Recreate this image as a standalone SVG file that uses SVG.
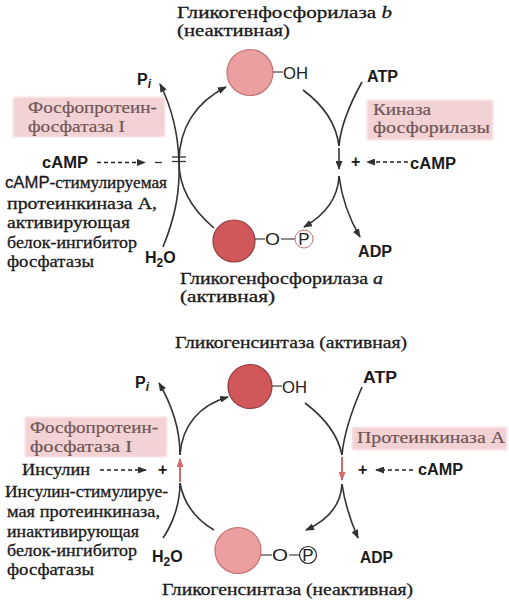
<svg xmlns="http://www.w3.org/2000/svg" width="509" height="602" viewBox="0 0 509 602">
<defs>
<style>
.t{font-family:"Liberation Serif","Times New Roman",serif;font-size:16.5px;fill:#1a1a1a;stroke:#1a1a1a;stroke-width:0.3}
.bx{font-family:"Liberation Serif","Times New Roman",serif;font-size:16.5px;fill:#705656;stroke:#705656;stroke-width:0.2}
.s{font-family:"Liberation Sans",Arial,sans-serif;font-size:16px;font-weight:bold;fill:#1a1a1a}
.o{font-family:"Liberation Sans",Arial,sans-serif;font-size:17px;fill:#222}
.ln{fill:none;stroke:#333;stroke-width:1.6}
.dash{fill:none;stroke:#222;stroke-width:1.3;stroke-dasharray:4 3}
.red{fill:none;stroke:#d46a6a;stroke-width:2}
.box{fill:#f3d2d5}
.lp{fill:#eb9fa1;stroke:#c47277;stroke-width:1.2}
.dr{fill:#d0585a;stroke:#8e3a3a;stroke-width:1.2}
</style>
<marker id="ah" markerWidth="9" markerHeight="7" refX="8" refY="3.5" orient="auto" markerUnits="userSpaceOnUse"><path d="M0,0 L9,3.5 L0,7 Z" fill="#333"/></marker>
<marker id="ahr" markerWidth="9" markerHeight="7" refX="8" refY="3.5" orient="auto" markerUnits="userSpaceOnUse"><path d="M0,0 L9,3.5 L0,7 Z" fill="#d46a6a"/></marker>
<filter id="soft" x="-5%" y="-10%" width="110%" height="120%"><feGaussianBlur stdDeviation="1.2"/></filter>
</defs>
<rect width="509" height="602" fill="#fff"/>

<!-- ===== TOP DIAGRAM ===== -->
<g id="title-b">
<text class="t" x="177" y="17.5" textLength="215" lengthAdjust="spacingAndGlyphs">Гликогенфосфорилаза <tspan font-style="italic">b</tspan></text>
<text class="t" x="177" y="35.5" textLength="113" lengthAdjust="spacingAndGlyphs">(неактивная)</text>
</g>
<g id="phos-b">
<circle class="lp" cx="250" cy="72.5" r="23"/>
<line x1="273" y1="72" x2="283" y2="72" stroke="#444" stroke-width="1.2"/>
<text class="o" x="283" y="79" textLength="25" lengthAdjust="spacingAndGlyphs">OH</text>
</g>
<g id="phos-a">
<circle class="dr" cx="234" cy="241" r="21"/>
<line x1="255" y1="239" x2="265" y2="239" stroke="#444" stroke-width="1.2"/>
<text class="o" x="265" y="245" textLength="15" lengthAdjust="spacingAndGlyphs">O</text>
<line x1="281" y1="239" x2="295" y2="239" stroke="#444" stroke-width="1.2"/>
<circle cx="304" cy="239" r="9" fill="#fff" stroke="#c47277" stroke-width="1"/>
<text class="o" x="304" y="244.5" font-size="14" text-anchor="middle">P</text>
</g>
<g id="title-a">
<text class="t" x="180" y="283.5" textLength="203" lengthAdjust="spacingAndGlyphs">Гликогенфосфорилаза <tspan font-style="italic">a</tspan></text>
<text class="t" x="180" y="301.5" textLength="95" lengthAdjust="spacingAndGlyphs">(активная)</text>
</g>
<g id="ppase1-top">
<rect class="box" x="13" y="97" width="152" height="40" filter="url(#soft)"/>
<text class="bx" x="28" y="113" textLength="129" lengthAdjust="spacingAndGlyphs">Фосфопротеин-</text>
<text class="bx" x="28" y="132" textLength="97" lengthAdjust="spacingAndGlyphs">фосфатаза I</text>
</g>
<g id="kinase-top">
<rect class="box" x="367" y="100" width="126" height="40" filter="url(#soft)"/>
<text class="bx" x="373" y="115" textLength="58" lengthAdjust="spacingAndGlyphs">Киназа</text>
<text class="bx" x="373" y="133" textLength="117" lengthAdjust="spacingAndGlyphs">фосфорилазы</text>
</g>
<g id="labels-top">
<text class="s" x="137" y="85">P<tspan font-size="12" font-style="italic" dy="3">i</tspan></text>
<text class="s" x="145" y="263">H<tspan font-size="12" dy="4">2</tspan><tspan dy="-4">O</tspan></text>
<text class="s" x="367" y="82" textLength="31" lengthAdjust="spacingAndGlyphs">ATP</text>
<text class="s" x="358" y="257" textLength="34" lengthAdjust="spacingAndGlyphs">ADP</text>
<text class="s" x="42" y="168" textLength="46" lengthAdjust="spacingAndGlyphs" font-weight="normal">cAMP</text>
<text class="s" x="410" y="169" textLength="46" lengthAdjust="spacingAndGlyphs">cAMP</text>
<text class="s" x="351" y="167" font-size="15">+</text>
<text class="t" x="5" y="188" textLength="162" lengthAdjust="spacingAndGlyphs"><tspan font-family="Liberation Sans,Arial,sans-serif" font-size="16">cAMP</tspan>-стимулируемая</text>
<text class="t" x="7" y="208.5" textLength="150" lengthAdjust="spacingAndGlyphs">протеинкиназа А,</text>
<text class="t" x="7" y="228" textLength="123" lengthAdjust="spacingAndGlyphs">активирующая</text>
<text class="t" x="7" y="247.5" textLength="130" lengthAdjust="spacingAndGlyphs">белок-ингибитор</text>
<text class="t" x="7" y="267" textLength="87" lengthAdjust="spacingAndGlyphs">фосфатазы</text>
</g>

<!-- ===== BOTTOM DIAGRAM ===== -->
<g id="title-gs-active">
<text class="t" x="175" y="348" textLength="232" lengthAdjust="spacingAndGlyphs">Гликогенсинтаза (активная)</text>
</g>
<g id="gs-active">
<circle class="dr" cx="250" cy="386.5" r="22"/>
<line x1="272" y1="386" x2="282" y2="386" stroke="#444" stroke-width="1.2"/>
<text class="o" x="282" y="393" textLength="25" lengthAdjust="spacingAndGlyphs">OH</text>
</g>
<g id="gs-inactive">
<circle class="lp" cx="238" cy="550.5" r="23"/>
<line x1="261" y1="555" x2="272" y2="555" stroke="#444" stroke-width="1.2"/>
<text class="o" x="272" y="561" textLength="16" lengthAdjust="spacingAndGlyphs">O</text>
<line x1="289" y1="555" x2="300" y2="555" stroke="#444" stroke-width="1.2"/>
<circle cx="308" cy="555" r="8.5" fill="#fff" stroke="#222" stroke-width="1.2"/>
<text class="o" x="308" y="560.5" font-size="14.5" text-anchor="middle">P</text>
</g>
<g id="title-gs-inactive">
<text class="t" x="162" y="595" textLength="251" lengthAdjust="spacingAndGlyphs">Гликогенсинтаза (неактивная)</text>
</g>
<g id="ppase1-bottom">
<rect class="box" x="25" y="417" width="142" height="40" filter="url(#soft)"/>
<text class="bx" x="30" y="433" textLength="128" lengthAdjust="spacingAndGlyphs">Фосфопротеин-</text>
<text class="bx" x="30" y="452" textLength="102" lengthAdjust="spacingAndGlyphs">фосфатаза I</text>
</g>
<g id="pka-bottom">
<rect class="box" x="352" y="427" width="155" height="23" filter="url(#soft)"/>
<text class="bx" x="357" y="443" textLength="148" lengthAdjust="spacingAndGlyphs">Протеинкиназа А</text>
</g>
<g id="labels-bottom">
<text class="s" x="135" y="388">P<tspan font-size="12" font-style="italic" dy="3">i</tspan></text>
<text class="s" x="152" y="562">H<tspan font-size="12" dy="4">2</tspan><tspan dy="-4">O</tspan></text>
<text class="s" x="363" y="383" textLength="34" lengthAdjust="spacingAndGlyphs">ATP</text>
<text class="s" x="360" y="563" textLength="33" lengthAdjust="spacingAndGlyphs">ADP</text>
<text class="s" x="418" y="475" textLength="45" lengthAdjust="spacingAndGlyphs">cAMP</text>
<text class="s" x="358" y="475" font-size="15">+</text>
<text class="s" x="158" y="475" font-size="15" font-weight="normal">+</text>
<text class="t" x="22" y="475" textLength="68" lengthAdjust="spacingAndGlyphs">Инсулин</text>
<text class="t" x="5" y="497" textLength="163" lengthAdjust="spacingAndGlyphs">Инсулин-стимулируе-</text>
<text class="t" x="7" y="517" textLength="153" lengthAdjust="spacingAndGlyphs">мая протеинкиназа,</text>
<text class="t" x="7" y="536.5" textLength="132" lengthAdjust="spacingAndGlyphs">инактивирующая</text>
<text class="t" x="7" y="555.5" textLength="130" lengthAdjust="spacingAndGlyphs">белок-ингибитор</text>
<text class="t" x="7" y="574.5" textLength="87" lengthAdjust="spacingAndGlyphs">фосфатазы</text>
</g>

<!-- ===== CONNECTORS ===== -->
<g id="connectors">
<!-- top left -->
<path class="ln" d="M163,247 C176,215 180,190 179,162 C178,130 171,106 160,84" marker-end="url(#ah)"/>
<path class="ln" d="M214,228 C195,212 179,190 179,162 C179,128 196,102 226,87" marker-end="url(#ah)"/>
<line x1="172" y1="157" x2="186" y2="157" stroke="#333" stroke-width="1.3"/>
<line x1="172" y1="161.5" x2="186" y2="161.5" stroke="#333" stroke-width="1.3"/>
<line x1="155" y1="162.5" x2="162" y2="162.5" stroke="#333" stroke-width="1.3"/>
<path class="dash" d="M97,162.5 L145,162.5" marker-end="url(#ah)"/>
<!-- top right -->
<path class="ln" d="M303,90 C322,104 336,122 339,146"/>
<path class="ln" d="M362,82 C352,100 341,122 339,146"/>
<path class="ln" d="M339,148 L339,169" marker-end="url(#ah)"/>
<path class="ln" d="M339,176 C338,198 325,215 304,227" marker-end="url(#ah)"/>
<path class="ln" d="M339,176 C342,200 350,220 360,237" marker-end="url(#ah)"/>
<path class="dash" d="M408,162 L367,162" marker-end="url(#ah)"/>
<!-- bottom left -->
<path class="ln" d="M180,455 C180,430 172,405 159,383" marker-end="url(#ah)"/>
<path class="ln" d="M180,455 C182,425 200,405 228,397" marker-end="url(#ah)"/>
<path class="ln" d="M180,483 C180,505 172,525 163,538"/>
<path class="ln" d="M180,483 C184,505 197,520 214,530"/>
<path class="red" d="M180,482 L180,459" marker-end="url(#ahr)"/>
<path class="dash" d="M100,470 L146,470" marker-end="url(#ah)"/>
<!-- bottom right -->
<path class="ln" d="M305,403 C325,418 338,435 342,455"/>
<path class="ln" d="M362,387 C352,410 344,432 342,455"/>
<path class="red" d="M342,457 L342,480" marker-end="url(#ahr)"/>
<path class="ln" d="M342,484 C341,505 328,520 306,530" marker-end="url(#ah)"/>
<path class="ln" d="M342,484 C345,505 351,522 358,538" marker-end="url(#ah)"/>
<path class="dash" d="M413,470 L376,470" marker-end="url(#ah)"/>
</g>
</svg>
